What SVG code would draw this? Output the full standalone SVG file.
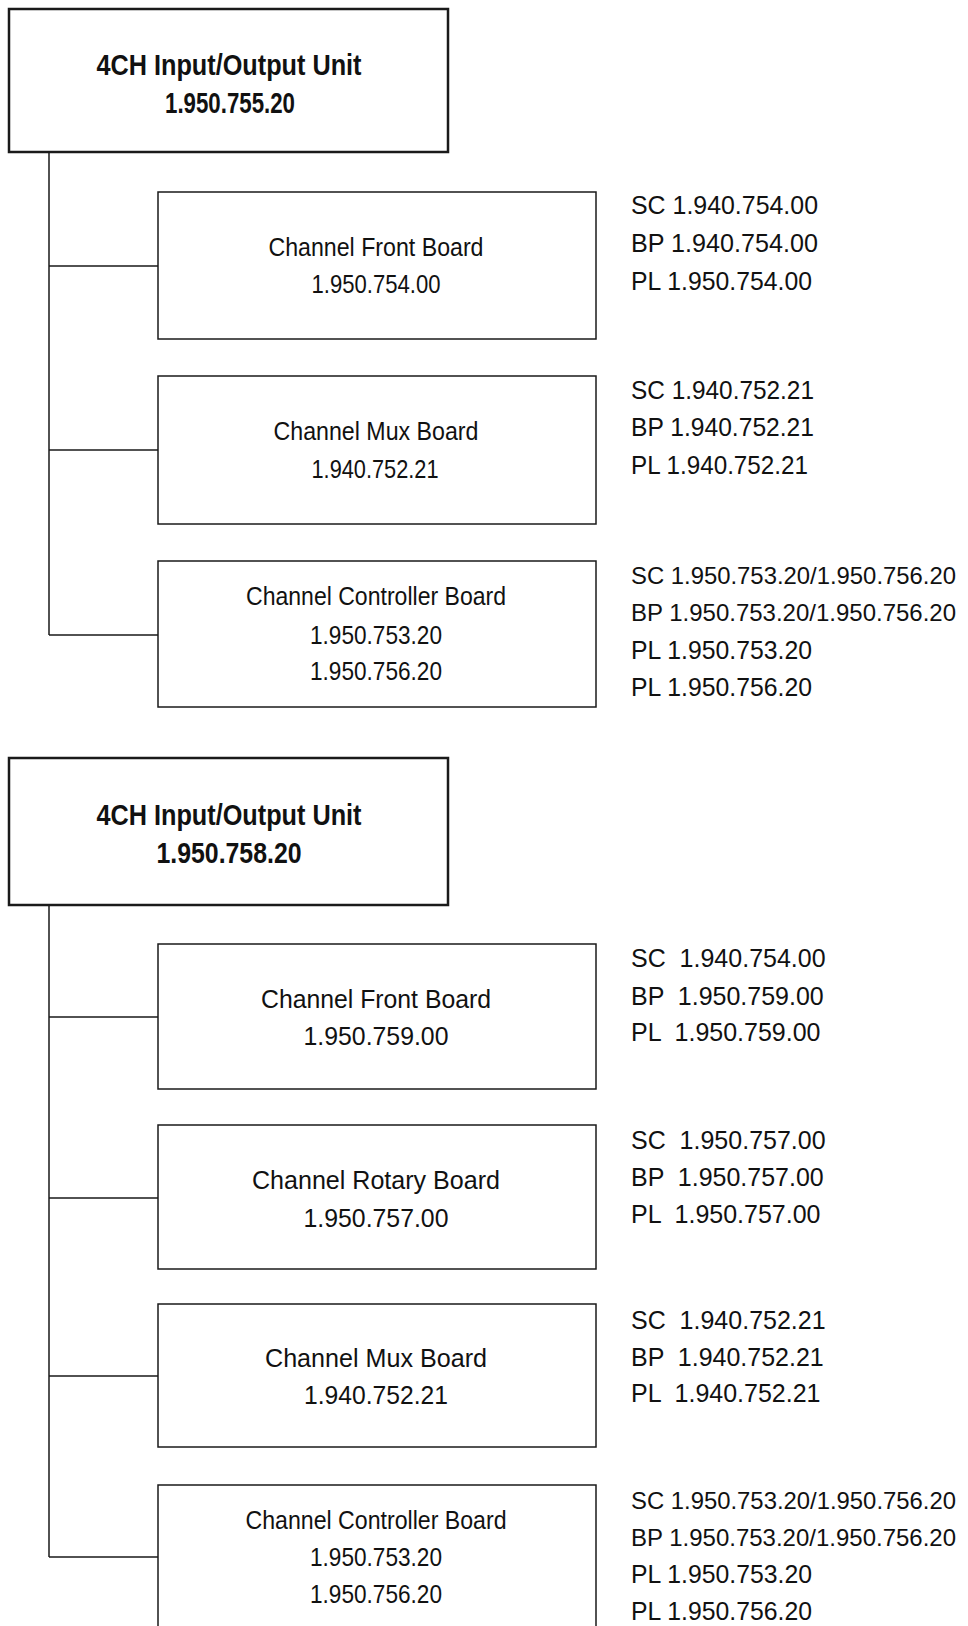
<svg xmlns="http://www.w3.org/2000/svg" width="968" height="1626" viewBox="0 0 968 1626">
<style>
.unit{fill:#fff;stroke:#1a1a1a;stroke-width:2.5}
.box{fill:#fff;stroke:#1a1a1a;stroke-width:1.5}
.con{fill:none;stroke:#1a1a1a;stroke-width:1.5}
text{font-family:"Liberation Sans",Arial,Helvetica,sans-serif;fill:#111}
.t{font-size:29px;font-weight:bold;text-anchor:middle}
.b{font-size:26px;text-anchor:middle}
.n{font-size:25px;text-anchor:middle}
.r{font-size:25px}
.rl{font-size:24px}
</style>
<rect width="968" height="1626" fill="#fff"/>
<g id="connectors">
<path class="con" d="M49,152 V635 M49,266 H158 M49,450 H158 M49,635 H158"/>
<path class="con" d="M49,905 V1557 M49,1017 H158 M49,1198 H158 M49,1376 H158 M49,1557 H158"/>
</g>
<g id="unit1">
<rect class="unit" x="9" y="9" width="439" height="143"/>
<text class="t" x="229" y="75" textLength="265" lengthAdjust="spacingAndGlyphs">4CH Input/Output Unit</text>
<text class="t" x="230" y="113" textLength="130" lengthAdjust="spacingAndGlyphs">1.950.755.20</text>
</g>
<g id="g1-front">
<rect class="box" x="158" y="192" width="438" height="147"/>
<text class="b" x="376" y="256" textLength="215" lengthAdjust="spacingAndGlyphs">Channel Front Board</text>
<text class="b" x="376" y="293" textLength="129" lengthAdjust="spacingAndGlyphs">1.950.754.00</text>
<text class="r" x="631" y="214" textLength="187" lengthAdjust="spacingAndGlyphs">SC 1.940.754.00</text>
<text class="r" x="631" y="252" textLength="187" lengthAdjust="spacingAndGlyphs">BP 1.940.754.00</text>
<text class="r" x="631" y="289.5" textLength="181" lengthAdjust="spacingAndGlyphs">PL 1.950.754.00</text>
</g>
<g id="g1-mux">
<rect class="box" x="158" y="376" width="438" height="148"/>
<text class="b" x="376" y="440" textLength="205" lengthAdjust="spacingAndGlyphs">Channel Mux Board</text>
<text class="b" x="375" y="478" textLength="127" lengthAdjust="spacingAndGlyphs">1.940.752.21</text>
<text class="r" x="631" y="398.5" textLength="183" lengthAdjust="spacingAndGlyphs">SC 1.940.752.21</text>
<text class="r" x="631" y="436" textLength="183" lengthAdjust="spacingAndGlyphs">BP 1.940.752.21</text>
<text class="r" x="631" y="473.5" textLength="177" lengthAdjust="spacingAndGlyphs">PL 1.940.752.21</text>
</g>
<g id="g1-controller">
<rect class="box" x="158" y="561" width="438" height="146"/>
<text class="b" x="376" y="605" textLength="260" lengthAdjust="spacingAndGlyphs">Channel Controller Board</text>
<text class="b" x="376" y="644" textLength="132" lengthAdjust="spacingAndGlyphs">1.950.753.20</text>
<text class="b" x="376" y="680" textLength="132" lengthAdjust="spacingAndGlyphs">1.950.756.20</text>
<text class="rl" x="631" y="583.5" textLength="325" lengthAdjust="spacingAndGlyphs">SC 1.950.753.20/1.950.756.20</text>
<text class="rl" x="631" y="620.5" textLength="325" lengthAdjust="spacingAndGlyphs">BP 1.950.753.20/1.950.756.20</text>
<text class="r" x="631" y="658.5" textLength="181" lengthAdjust="spacingAndGlyphs">PL 1.950.753.20</text>
<text class="r" x="631" y="695.5" textLength="181" lengthAdjust="spacingAndGlyphs">PL 1.950.756.20</text>
</g>
<g id="unit2">
<rect class="unit" x="9" y="758" width="439" height="147"/>
<text class="t" x="229" y="825" textLength="265" lengthAdjust="spacingAndGlyphs">4CH Input/Output Unit</text>
<text class="t" x="229" y="863" textLength="145" lengthAdjust="spacingAndGlyphs">1.950.758.20</text>
</g>
<g id="g2-front">
<rect class="box" x="158" y="944" width="438" height="145"/>
<text class="n" x="376" y="1008" textLength="230" lengthAdjust="spacingAndGlyphs">Channel Front Board</text>
<text class="n" x="376" y="1045" textLength="145" lengthAdjust="spacingAndGlyphs">1.950.759.00</text>
<text class="r" x="631" y="967" xml:space="preserve">SC  1.940.754.00</text>
<text class="r" x="631" y="1004.5" xml:space="preserve">BP  1.950.759.00</text>
<text class="r" x="631" y="1041" xml:space="preserve">PL  1.950.759.00</text>
</g>
<g id="g2-rotary">
<rect class="box" x="158" y="1125" width="438" height="144"/>
<text class="n" x="376" y="1189" textLength="248" lengthAdjust="spacingAndGlyphs">Channel Rotary Board</text>
<text class="n" x="376" y="1227" textLength="145" lengthAdjust="spacingAndGlyphs">1.950.757.00</text>
<text class="r" x="631" y="1148.5" xml:space="preserve">SC  1.950.757.00</text>
<text class="r" x="631" y="1186" xml:space="preserve">BP  1.950.757.00</text>
<text class="r" x="631" y="1222.5" xml:space="preserve">PL  1.950.757.00</text>
</g>
<g id="g2-mux">
<rect class="box" x="158" y="1304" width="438" height="143"/>
<text class="n" x="376" y="1367" textLength="222" lengthAdjust="spacingAndGlyphs">Channel Mux Board</text>
<text class="n" x="376" y="1404" textLength="144" lengthAdjust="spacingAndGlyphs">1.940.752.21</text>
<text class="r" x="631" y="1329" xml:space="preserve">SC  1.940.752.21</text>
<text class="r" x="631" y="1365.5" xml:space="preserve">BP  1.940.752.21</text>
<text class="r" x="631" y="1402" xml:space="preserve">PL  1.940.752.21</text>
</g>
<g id="g2-controller">
<path class="box" d="M158,1630 V1485 H596 V1630"/>
<text class="b" x="376" y="1529" textLength="261" lengthAdjust="spacingAndGlyphs">Channel Controller Board</text>
<text class="b" x="376" y="1566" textLength="132" lengthAdjust="spacingAndGlyphs">1.950.753.20</text>
<text class="b" x="376" y="1603" textLength="132" lengthAdjust="spacingAndGlyphs">1.950.756.20</text>
<text class="rl" x="631" y="1508.5" textLength="325" lengthAdjust="spacingAndGlyphs">SC 1.950.753.20/1.950.756.20</text>
<text class="rl" x="631" y="1546" textLength="325" lengthAdjust="spacingAndGlyphs">BP 1.950.753.20/1.950.756.20</text>
<text class="r" x="631" y="1582.5" textLength="181" lengthAdjust="spacingAndGlyphs">PL 1.950.753.20</text>
<text class="r" x="631" y="1619.5" textLength="181" lengthAdjust="spacingAndGlyphs">PL 1.950.756.20</text>
</g>
</svg>
